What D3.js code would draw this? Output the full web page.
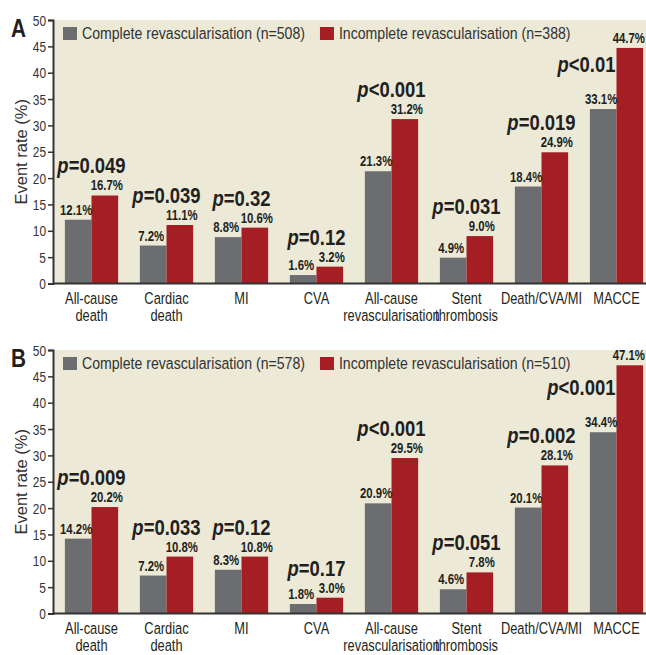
<!DOCTYPE html>
<html>
<head>
<meta charset="utf-8">
<script src="https://cdn.jsdelivr.net/npm/d3@7"></script>
<style>
    body { margin: 0; background: #fff; }
    svg { display: block; }
</style>
</head>
<body>
<div id="wrapper"></div>
<script>
// Data
const categories = [
    "All-cause\ndeath", "Cardiac\ndeath", "MI", "CVA",
    "All-cause\nrevascularisation", "Stent\nthrombosis", "Death/CVA/MI", "MACCE"
];
const yTicks = [0, 5, 10, 15, 20, 25, 30, 35, 40, 45, 50];

const legendA = ["Complete revascularisation (n=508)", "Incomplete revascularisation (n=388)"];
const completeA = [12.1, 7.2, 8.8, 1.6, 21.3, 4.9, 18.4, 33.1];
const incompleteA = [16.7, 11.1, 10.6, 3.2, 31.2, 9.0, 24.9, 44.7];
const pValuesA = ["=0.049", "=0.039", "=0.32", "=0.12", "<0.001", "=0.031", "=0.019", "<0.01"];

const legendB = ["Complete revascularisation (n=578)", "Incomplete revascularisation (n=510)"];
const completeB = [14.2, 7.2, 8.3, 1.8, 20.9, 4.6, 20.1, 34.4];
const incompleteB = [20.2, 10.8, 10.8, 3.0, 29.5, 7.8, 28.1, 47.1];
const pValuesB = ["=0.009", "=0.033", "=0.12", "=0.17", "<0.001", "=0.051", "=0.002", "<0.001"];

const colors = { complete: "#6c6d71", incomplete: "#a51e24" };
const font = "'Liberation Sans', Arial, sans-serif";
const textColor = "#231f20";

const width = 646;
const height = 655;

const svg = d3.select("#wrapper")
    .append("svg")
    .attr("width", width)
    .attr("height", height);

// no condensed face installed, so squeeze Liberation Sans horizontally
function narrowAt(sel, x, y, k) {
    sel.attr("x", 0).attr("y", 0)
        .attr("transform", (d, i, n) => {
            const xx = typeof x === "function" ? x(d, i, n) : x;
            const yy = typeof y === "function" ? y(d, i, n) : y;
            return `translate(${xx},${yy}) scale(${k},1)`;
        })
        .style("font-family", font);
    return sel;
}

function drawPanel(letter, top, legend, complete, incomplete, pValues) {
    const axisX = 53;
    const plotHeight = 263.5;
    const bottom = top + plotHeight;

    const data = categories.map((c, i) => ({
        category: c,
        complete: complete[i],
        incomplete: incomplete[i],
        p: pValues[i]
    }));

    // scales
    const yScale = d3.scaleLinear()
        .domain([0, 50])
        .range([bottom, top]);

    const xScale = d3.scaleBand()
        .domain(categories)
        .range([54, 654])
        .paddingInner(0.29)
        .paddingOuter(0.145);

    const subScale = d3.scaleBand()
        .domain(["complete", "incomplete"])
        .range([0, xScale.bandwidth()]);

    const g = svg.append("g");

    // background
    g.append("rect")
        .attr("x", axisX)
        .attr("y", yScale(50))
        .attr("width", width - axisX)
        .attr("height", yScale(0) - yScale(50))
        .attr("fill", "#ece9d7");

    // bars
    const groups = g.selectAll(".group")
        .data(data)
        .join("g")
        .attr("class", "group")
        .attr("transform", d => `translate(${xScale(d.category)},0)`);

    groups.selectAll("rect")
        .data(d => ["complete", "incomplete"].map(k => ({ key: k, value: d[k] })))
        .join("rect")
        .attr("x", d => subScale(d.key))
        .attr("y", d => yScale(d.value))
        .attr("width", subScale.bandwidth())
        .attr("height", d => yScale(0) - yScale(d.value))
        .attr("fill", d => colors[d.key]);

    // value labels
    const valueSqueeze = 0.76;
    groups.each(function (d) {
        const gx = xScale(d.category);
        ["complete", "incomplete"].forEach(k => {
            const t = d3.select(this).append("text")
                .attr("text-anchor", "middle")
                .style("font-family", font)
                .style("font-weight", "bold")
                .style("font-size", "15px")
                .attr("fill", textColor)
                .text(d[k].toFixed(1) + "%");
            const half = t.node().getComputedTextLength() * valueSqueeze / 2;
            let cx = subScale(k) + subScale.bandwidth() / 2 + (k === "complete" ? -2 : 2);
            // keep the label inside the picture
            cx = Math.min(cx, width - 1 - half - gx);
            t.call(narrowAt, cx, yScale(d[k]) - 5, valueSqueeze);
        });
    });

    // p values
    groups.each(function (d) {
        const mid = xScale.bandwidth() / 2;
        let px = mid;
        let anchor = "middle";
        let py = yScale(d.incomplete) - 5 - 17;
        if (py - 16 < top) {
            // no room above the tall bar: put it above the grey label instead
            py = yScale(d.complete) - 5 - 32;
            px = mid - 1;
            anchor = "end";
        }
        const t = d3.select(this).append("text")
            .call(narrowAt, px, py, 0.84)
            .attr("text-anchor", anchor)
            .style("font-weight", "bold")
            .style("font-size", "22px")
            .attr("fill", textColor);
        t.append("tspan").style("font-style", "italic").text("p");
        t.append("tspan").text(d.p);
    });

    // category labels
    groups.append("text")
        .call(narrowAt, xScale.bandwidth() / 2, bottom + 20, 0.78)
        .attr("text-anchor", "middle")
        .style("font-size", "16.5px")
        .attr("fill", textColor)
        .selectAll("tspan")
        .data(d => d.category.split("\n"))
        .join("tspan")
        .attr("x", 0)
        .attr("y", (d, i) => i * 18)
        .text(d => d);

    // x axis line
    g.append("line")
        .attr("x1", axisX)
        .attr("x2", width)
        .attr("y1", bottom)
        .attr("y2", bottom)
        .attr("stroke", "#333")
        .attr("stroke-width", 2);

    // y axis
    const yAxisGenerator = d3.axisLeft(yScale)
        .tickValues(yTicks)
        .tickSize(5)
        .tickPadding(2);

    const yAxis = g.append("g")
        .attr("transform", `translate(${axisX},0)`)
        .call(yAxisGenerator);
    yAxis.select(".domain").attr("stroke", "#333").attr("stroke-width", 2);
    yAxis.selectAll(".tick line").attr("stroke", "#333").attr("stroke-width", 1.5);
    yAxis.selectAll(".tick text")
        .call(narrowAt, -7, 0, 0.85)
        .attr("dy", "0.36em")
        .style("font-size", "14px")
        .attr("fill", "#333");

    // y axis title
    g.append("text")
        .attr("transform", `translate(27,${(top + bottom) / 2}) rotate(-90)`)
        .attr("text-anchor", "middle")
        .style("font-family", font)
        .style("font-size", "16.5px")
        .attr("fill", "#333")
        .text("Event rate (%)");

    // panel letter
    g.append("text")
        .call(narrowAt, 11, top + 16.5, 0.8)
        .style("font-weight", "bold")
        .style("font-size", "26px")
        .attr("fill", textColor)
        .text(letter);

    // legend
    const legendSqueeze = 0.83;
    let lx = 63;
    const ly = top + 7;
    ["complete", "incomplete"].forEach((k, i) => {
        g.append("rect")
            .attr("x", lx)
            .attr("y", ly)
            .attr("width", 14)
            .attr("height", 13)
            .attr("fill", colors[k]);
        const t = g.append("text")
            .call(narrowAt, lx + 19, ly + 12, legendSqueeze)
            .style("font-size", "17px")
            .attr("fill", "#333")
            .text(legend[i]);
        lx = lx + 19 + t.node().getComputedTextLength() * legendSqueeze + 15;
    });
}

drawPanel("A", 20, legendA, completeA, incompleteA, pValuesA);
drawPanel("B", 350, legendB, completeB, incompleteB, pValuesB);
</script>
</body>
</html>
